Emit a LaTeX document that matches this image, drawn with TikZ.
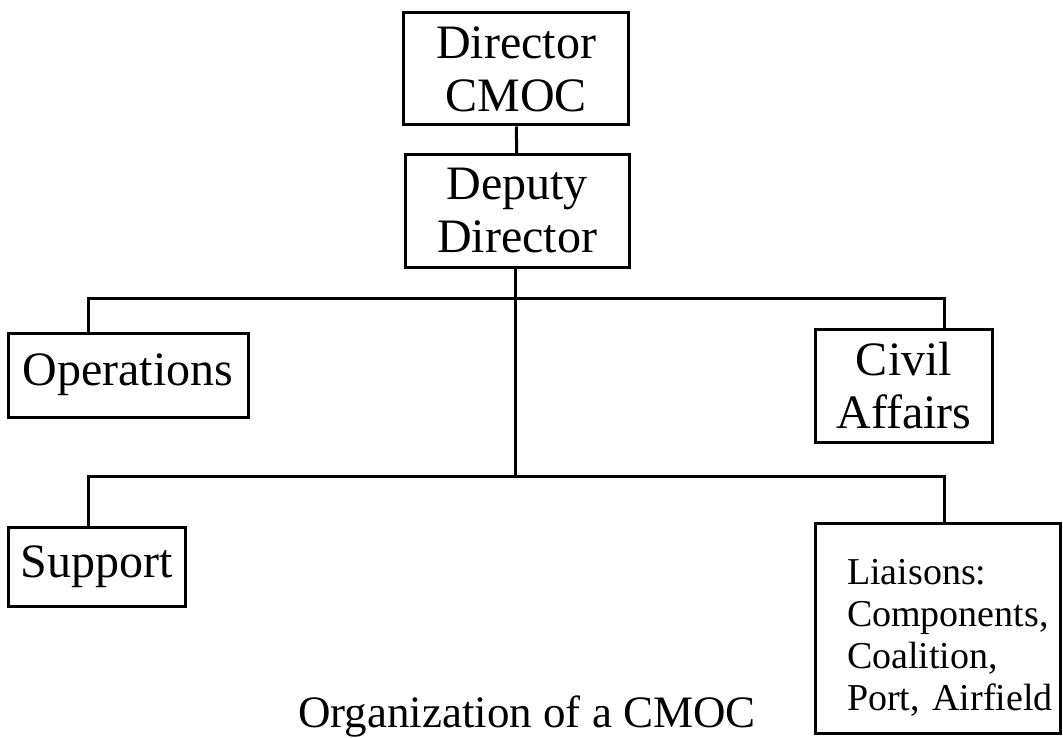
\documentclass[tikz,border=0pt]{standalone}
\usepackage{fontspec}
\setmainfont{Liberation Serif}
\usepackage{tikz}
\frenchspacing

\begin{document}
\begin{tikzpicture}[x=1pt, y=-1pt, line width=3pt,
  box/.style={draw, rectangle, inner sep=0pt, align=center, font=\fontsize{48}{53}\selectfont},
  liaisonbox/.style={draw, rectangle, inner sep=0pt, align=left, text width=230pt, font=\fontsize{38}{42}\selectfont}]
  \useasboundingbox (0,0) rectangle (1063,738);

  \node[box, minimum width=225pt, minimum height=112pt] (dir) at (516,69) {Director\\CMOC};
  \node[box, minimum width=224pt, minimum height=113pt] (dep) at (517,211) {Deputy\\Director};
  \node[box, minimum width=240pt, minimum height=84pt] (ops) at (128,375) {Operations};
  \node[box, minimum width=177pt, minimum height=113pt] (civ) at (904,386) {Civil\\Affairs};
  \node[box, minimum width=177pt, minimum height=79pt] (sup) at (97,567) {Support};
  \node[liaisonbox, minimum width=245pt, minimum height=210pt, text height=44pt] (lia) at (938,628)
    {\hspace*{24pt}Liaisons:\\\hspace*{24pt}Components,\\\hspace*{24pt}Coalition,\\\hspace*{24pt}Port, Airfield};
  \node[font=\fontsize{45}{45}\selectfont, anchor=base] (title) at (527,727) {Organization of a CMOC};

  \coordinate (upbus) at (515,298);
  \coordinate (lowbus) at (515,476);
  \coordinate (lftdrop) at (88,0);
  \coordinate (rgtdrop) at (944,0);

  \draw (dir) -- (dep);
  \draw (dep.south -| upbus) -- (lowbus);
  \draw (ops.north -| lftdrop) |- (upbus) -| (civ.north -| rgtdrop);
  \draw (sup.north -| lftdrop) |- (lowbus) -| (lia.north -| rgtdrop);
\end{tikzpicture}
\end{document}
